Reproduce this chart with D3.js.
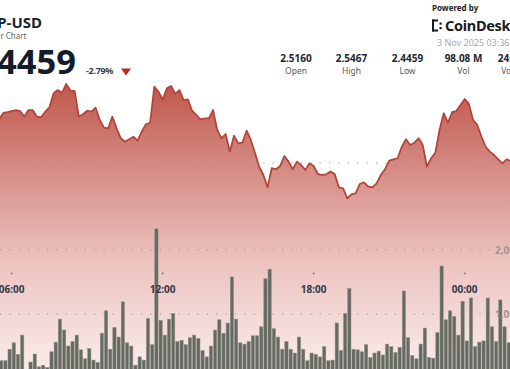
<!DOCTYPE html>
<html>
<head>
<meta charset="utf-8">
<script src="https://cdn.jsdelivr.net/npm/d3@7"></script>
<style>
  html, body { margin: 0; padding: 0; background: #ffffff; overflow: hidden; }
  svg { display: block; font-family: "Noto Sans", "Open Sans", sans-serif; }
</style>
</head>
<body>
<svg id="chart" width="510" height="369"></svg>
<script>
// ---------------- DATA ----------------
const symbol = "XRP-USD";
const subtitle = "24 Hour Chart";
const lastPrice = "2.4459";
const changePct = "-2.79%";
const statValues = ["2.5160", "2.5467", "2.4459", "98.08 M", "245.62 M"];
const statLabels = ["Open", "High", "Low", "Vol", "Vol (USD)"];
const stampText = "3 Nov 2025 03:36";

// 10-minute samples starting 2 Nov 2025 05:30 UTC
const seriesStart = Date.UTC(2025, 10, 2, 5, 30);
const stepMinutes = 10;
const windowStart = Date.UTC(2025, 10, 2, 3, 36);
const windowEnd = Date.UTC(2025, 10, 3, 3, 36);

const prices = [
  2.5258, 2.5296, 2.5301, 2.5307, 2.5313, 2.5307, 2.5274, 2.5313, 2.5313, 2.5274,
  2.5270, 2.5303, 2.5329, 2.5412, 2.5431, 2.5415, 2.5467, 2.5427, 2.5426, 2.5274,
  2.5288, 2.5309, 2.5303, 2.5327, 2.5254, 2.5209, 2.5205, 2.5274, 2.5205, 2.5146,
  2.5126, 2.5140, 2.5155, 2.5132, 2.5185, 2.5229, 2.5238, 2.5451, 2.5421, 2.5376,
  2.5441, 2.5455, 2.5408, 2.5431, 2.5372, 2.5376, 2.5309, 2.5284, 2.5258, 2.5264,
  2.5264, 2.5313, 2.5195, 2.5146, 2.5171, 2.5067, 2.5161, 2.5116, 2.5120, 2.5191,
  2.5136, 2.5059, 2.4978, 2.4929, 2.4856, 2.4969, 2.4963, 2.4982, 2.5041, 2.5008,
  2.4963, 2.5008, 2.4988, 2.4959, 2.4998, 2.4982, 2.4935, 2.4929, 2.4933, 2.4949,
  2.4935, 2.4856, 2.4850, 2.4791, 2.4815, 2.4821, 2.4876, 2.4886, 2.4860, 2.4856,
  2.4880, 2.4929, 2.4963, 2.5014, 2.5022, 2.5028, 2.5096, 2.5140, 2.5106, 2.5120,
  2.5146, 2.5106, 2.4978, 2.5028, 2.5061, 2.5195, 2.5294, 2.5238, 2.5300, 2.5307,
  2.5343, 2.5378, 2.5349, 2.5254, 2.5225, 2.5155, 2.5096, 2.5067, 2.5047, 2.5022,
  2.4998, 2.5022, 2.5012, 2.5005, 2.4990
];

const volumes = [
  270, 270, 450, 550, 370, 670, 100, 250, 375, 175,
  200, 165, 410, 560, 920, 750, 500, 570, 670, 440,
  300, 460, 280, 245, 700, 1050, 450, 790, 640, 1190,
  550, 500, 200, 330, 280, 930, 520, 2330, 900, 670,
  920, 1010, 570, 590, 520, 630, 670, 620, 430, 330,
  500, 750, 910, 700, 860, 1580, 920, 550, 530, 570,
  660, 660, 800, 1550, 1700, 770, 640, 450, 570, 450,
  390, 640, 450, 270, 390, 370, 330, 490, 270, 280,
  860, 430, 1010, 1400, 450, 440, 410, 520, 320, 390,
  420, 360, 530, 490, 400, 480, 1360, 630, 350, 300,
  530, 780, 320, 310, 710, 1750, 910, 1050, 960, 670,
  1200, 580, 1250, 490, 560, 580, 1250, 800, 570, 1220,
  800, 550
];

const priceTicks = [2.5];
const volumeTicks = [1000, 2000];
const volumeTickLabels = ["1,000", "2,000"];

// ---------------- CHART ----------------
const svg = d3.select("#chart");
const W = 510, H = 369;
const stepMs = stepMinutes * 60000;
const timeAt = i => new Date(seriesStart + i * stepMs);

const x = d3.scaleTime()
  .domain([new Date(windowStart), new Date(windowEnd)])
  .range([-48.7, 555.3]);
const yP = d3.scaleLinear().domain([2.45, 2.55]).range([247.6, 78.4]);
const yV = d3.scaleLinear().domain([0, 2000]).range([378, 250]);

const priceData = prices.map((p, i) => ({ t: timeAt(i), p }));
const volData = volumes.map((v, i) => ({ t: timeAt(i), v }));

const defs = svg.append("defs");
const grad = defs.append("linearGradient")
  .attr("id", "areaGrad").attr("gradientUnits", "userSpaceOnUse")
  .attr("x1", 0).attr("x2", 0).attr("y1", 84).attr("y2", 378);
[[0, "#c0574c"], [0.28, "#d48a82"], [0.6, "#ecc3bf"], [1, "#fbefee"]]
  .forEach(([o, c]) => grad.append("stop").attr("offset", o).attr("stop-color", c));

// Area
svg.append("path")
  .datum(priceData)
  .attr("d", d3.area().x(d => x(d.t)).y0(380).y1(d => yP(d.p)))
  .attr("fill", "url(#areaGrad)");

// Price grid
svg.append("g").selectAll("line").data(priceTicks).join("line")
  .attr("x1", 0).attr("x2", W)
  .attr("y1", d => yP(d)).attr("y2", d => yP(d))
  .attr("stroke", "#a09090").attr("stroke-width", 1.2)
  .attr("stroke-dasharray", "1.2 8.2");

// Volume grid
svg.append("g").selectAll("line").data(volumeTicks).join("line")
  .attr("x1", 0).attr("x2", W)
  .attr("y1", d => yV(d)).attr("y2", d => yV(d))
  .attr("stroke", "#a09090").attr("stroke-width", 1.2)
  .attr("stroke-dasharray", "1.2 8.2");

// Price line
svg.append("path")
  .datum(priceData)
  .attr("d", d3.line().x(d => x(d.t)).y(d => yP(d.p)))
  .attr("fill", "none")
  .attr("stroke", "#b5443a")
  .attr("stroke-width", 1.8)
  .attr("stroke-linejoin", "round");

// Volume bars
svg.append("g").selectAll("rect").data(volData).join("rect")
  .attr("x", d => x(d.t) + 0.45)
  .attr("width", d => x(new Date(+d.t + stepMs)) - x(d.t) - 0.9)
  .attr("y", d => yV(d.v))
  .attr("height", d => yV(0) - yV(d.v))
  .attr("fill", "#666a62")
  .attr("stroke", "#8e928a")
  .attr("stroke-width", 0.5);

// Volume labels
svg.append("g").selectAll("text").data(volumeTicks).join("text")
  .attr("x", 495).attr("y", d => yV(d) + 4)
  .attr("font-size", 10).attr("font-weight", 700)
  .attr("fill", "#a49492")
  .text((d, i) => volumeTickLabels[i]);

// Time axis
const tticks = x.ticks(d3.utcHour.every(6)).filter(t => x(t) > -20 && x(t) < W + 20);
const fmt = d3.utcFormat("%H:%M");
const tg = svg.append("g");
tg.selectAll("circle").data(tticks).join("circle")
  .attr("cx", d => x(d)).attr("cy", 273.5).attr("r", 0.9).attr("fill", "#777");
tg.selectAll("text").data(tticks).join("text")
  .attr("x", d => x(d)).attr("y", 292.5)
  .attr("text-anchor", "middle")
  .attr("font-size", 10).attr("font-weight", 700)
  .attr("fill", "#323846")
  .text(d => fmt(d));

// Header
svg.append("text").attr("x", 42).attr("y", 27.5).attr("text-anchor", "end")
  .attr("font-size", 15).attr("font-weight", 700).attr("fill", "#1b2333").text(symbol);
svg.append("text").attr("x", 26.5).attr("y", 38.5).attr("text-anchor", "end")
  .attr("font-size", 8).attr("fill", "#666").text(subtitle);
svg.append("text").attr("x", 76).attr("y", 74).attr("text-anchor", "end")
  .attr("font-size", 34.5).attr("font-weight", 700).attr("fill", "#141b2b")
  .text(lastPrice);
svg.append("text").attr("x", 86).attr("y", 74)
  .attr("font-size", 9).attr("font-weight", 700).attr("fill", "#3a3f4a")
  .attr("letter-spacing", -0.3).text(changePct);
svg.append("path").attr("d", "M121,68.5 L131,68.5 L126,75.5 Z").attr("fill", "#c0281e");

const statX = [296, 351.5, 407.5, 463.5, 519.5];
const sg = svg.append("g");
sg.selectAll("text.v").data(statValues).join("text").attr("class", "v")
  .attr("x", (d, i) => statX[i]).attr("y", 61.5).attr("text-anchor", "middle")
  .attr("font-size", 10).attr("font-weight", 700).attr("fill", "#23262d").text(d => d);
sg.selectAll("text.l").data(statLabels).join("text").attr("class", "l")
  .attr("x", (d, i) => statX[i]).attr("y", 74).attr("text-anchor", "middle")
  .attr("font-size", 8.5).attr("fill", "#555a62").text(d => d);

// Powered by CoinDesk
svg.append("text").attr("x", 432).attr("y", 11)
  .attr("font-size", 8).attr("font-weight", 700).attr("fill", "#222").text("Powered by");
const logo = svg.append("g").attr("fill", "#1a1a1a");
[[432, 19.5, 2, 12], [432, 19.5, 6, 2], [432, 29.5, 6, 2], [439.5, 22.5, 2.2, 2.2], [439.5, 27, 2.2, 2.2]]
  .forEach(([a, b, w, h]) => logo.append("rect").attr("x", a).attr("y", b).attr("width", w).attr("height", h));
svg.append("text").attr("x", 445).attr("y", 31)
  .attr("font-size", 14.5).attr("font-weight", 700).attr("fill", "#1a1a1a")
  .attr("letter-spacing", -0.3).text("CoinDesk Indices");
svg.append("text").attr("x", 437).attr("y", 46)
  .attr("font-size", 9).attr("fill", "#a8a8a8").text(stampText);
</script>
</body>
</html>
